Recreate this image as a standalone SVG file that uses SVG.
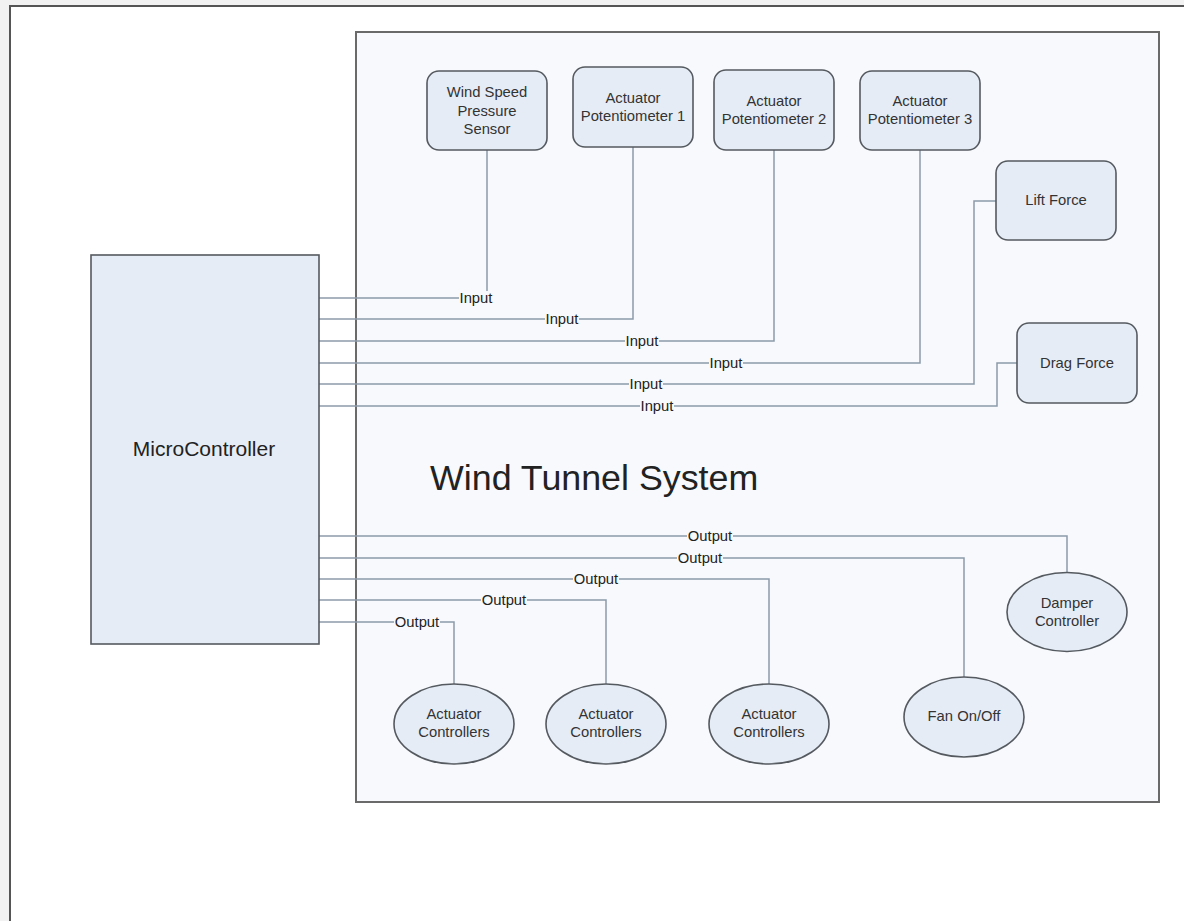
<svg xmlns="http://www.w3.org/2000/svg" width="1184" height="921" viewBox="0 0 1184 921">
<style>
.node{fill:#e6ecf5;stroke:#555a60;stroke-width:1.6}
.lbl{font-family:"Liberation Sans",Arial,sans-serif;font-size:14.8px;fill:#333;text-anchor:middle}
.conn{fill:none;stroke:#8d9aab;stroke-width:1.5}
.clbl{font-family:"Liberation Sans",Arial,sans-serif;font-size:14.8px;fill:#222;text-anchor:middle}
.lbg{fill:#f7f9fc}
</style>
<rect x="0" y="0" width="1184" height="921" fill="#f2f2f2"/>
<rect x="10" y="6" width="1174" height="915" fill="#ffffff"/>
<path d="M10,921 V6 H1184" fill="none" stroke="#555" stroke-width="2"/>
<g id="wind-tunnel-system">
<rect x="356" y="32" width="803" height="770" fill="#f7f9fc" stroke="#6a6a6a" stroke-width="2"/>
<text x="430" y="490" font-family="Liberation Sans,Arial,sans-serif" font-size="35.8" fill="#222">Wind Tunnel System</text>
</g>
<g id="connectors">
<path class="conn" d="M319,298 H487 V150"/>
<path class="conn" d="M319,319 H633 V147"/>
<path class="conn" d="M319,341 H774 V150"/>
<path class="conn" d="M319,363 H920 V150"/>
<path class="conn" d="M319,384 H974 V201 H996"/>
<path class="conn" d="M319,406 H997 V363 H1017"/>
<path class="conn" d="M319,536 H1067 V573"/>
<path class="conn" d="M319,558 H964 V677"/>
<path class="conn" d="M319,579 H769 V684"/>
<path class="conn" d="M319,600 H606 V684"/>
<path class="conn" d="M319,622 H454 V684"/>
<g id="connector-labels">
<rect class="lbg" x="459" y="291" width="34" height="15"/><text class="clbl" x="476" y="303">Input</text>
<rect class="lbg" x="545" y="312" width="34" height="15"/><text class="clbl" x="562" y="324">Input</text>
<rect class="lbg" x="625" y="334" width="34" height="15"/><text class="clbl" x="642" y="346">Input</text>
<rect class="lbg" x="709" y="356" width="34" height="15"/><text class="clbl" x="726" y="368">Input</text>
<rect class="lbg" x="629" y="377" width="34" height="15"/><text class="clbl" x="646" y="389">Input</text>
<rect class="lbg" x="640" y="399" width="34" height="15"/><text class="clbl" x="657" y="411">Input</text>
<rect class="lbg" x="687" y="529" width="46" height="15"/><text class="clbl" x="710" y="541">Output</text>
<rect class="lbg" x="677" y="551" width="46" height="15"/><text class="clbl" x="700" y="563">Output</text>
<rect class="lbg" x="573" y="572" width="46" height="15"/><text class="clbl" x="596" y="584">Output</text>
<rect class="lbg" x="481" y="593" width="46" height="15"/><text class="clbl" x="504" y="605">Output</text>
<rect class="lbg" x="394" y="615" width="46" height="15"/><text class="clbl" x="417" y="627">Output</text>
</g>
</g>
<g id="microcontroller">
<rect x="91" y="255" width="228" height="389" fill="#e6ecf5" stroke="#555a60" stroke-width="1.6"/>
<text x="204" y="456" font-family="Liberation Sans,Arial,sans-serif" font-size="21" fill="#222" text-anchor="middle">MicroController</text>
</g>
<g id="wind-speed-sensor">
<rect class="node" x="427" y="71" width="120" height="79" rx="12"/>
<text class="lbl" x="487" y="97">Wind Speed</text>
<text class="lbl" x="487" y="116">Pressure</text>
<text class="lbl" x="487" y="134">Sensor</text>
</g>
<g id="actuator-pot-1">
<rect class="node" x="573" y="67" width="120" height="80" rx="12"/>
<text class="lbl" x="633" y="103">Actuator</text>
<text class="lbl" x="633" y="121">Potentiometer 1</text>
</g>
<g id="actuator-pot-2">
<rect class="node" x="714" y="70" width="120" height="80" rx="12"/>
<text class="lbl" x="774" y="106">Actuator</text>
<text class="lbl" x="774" y="124">Potentiometer 2</text>
</g>
<g id="actuator-pot-3">
<rect class="node" x="860" y="71" width="120" height="79" rx="12"/>
<text class="lbl" x="920" y="106">Actuator</text>
<text class="lbl" x="920" y="124">Potentiometer 3</text>
</g>
<g id="lift-force">
<rect class="node" x="996" y="161" width="120" height="79" rx="12"/>
<text class="lbl" x="1056" y="205">Lift Force</text>
</g>
<g id="drag-force">
<rect class="node" x="1017" y="323" width="120" height="80" rx="12"/>
<text class="lbl" x="1077" y="368">Drag Force</text>
</g>
<g id="damper-controller">
<ellipse class="node" cx="1067" cy="612" rx="60" ry="39.5"/>
<text class="lbl" x="1067" y="608">Damper</text>
<text class="lbl" x="1067" y="626">Controller</text>
</g>
<g id="fan-on-off">
<ellipse class="node" cx="964" cy="717" rx="60" ry="40"/>
<text class="lbl" x="964" y="721">Fan On/Off</text>
</g>
<g id="actuator-controllers-1">
<ellipse class="node" cx="454" cy="724" rx="60" ry="40"/>
<text class="lbl" x="454" y="719">Actuator</text>
<text class="lbl" x="454" y="737">Controllers</text>
</g>
<g id="actuator-controllers-2">
<ellipse class="node" cx="606" cy="724" rx="60" ry="40"/>
<text class="lbl" x="606" y="719">Actuator</text>
<text class="lbl" x="606" y="737">Controllers</text>
</g>
<g id="actuator-controllers-3">
<ellipse class="node" cx="769" cy="724" rx="60" ry="40"/>
<text class="lbl" x="769" y="719">Actuator</text>
<text class="lbl" x="769" y="737">Controllers</text>
</g>
</svg>
